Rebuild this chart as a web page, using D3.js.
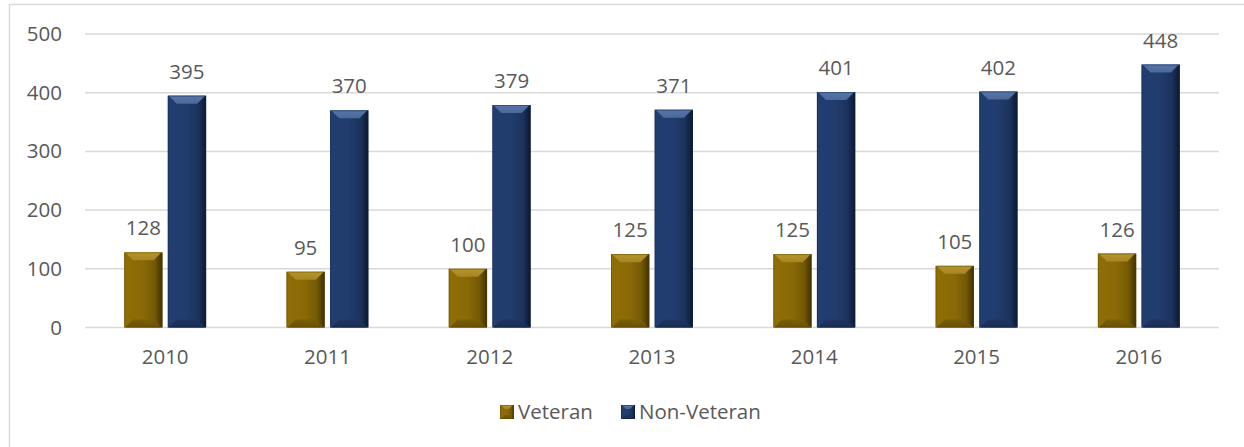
<!DOCTYPE html>
<html>
<head>
<meta charset="utf-8">
<script src="https://cdn.jsdelivr.net/npm/d3@7"></script>
<style>
  html, body { margin: 0; padding: 0; background: #fff; }
  svg { display: block; }
  text { font-family: "Open Sans", "DejaVu Sans", sans-serif; fill: #595959; }
</style>
</head>
<body>
<svg id="chart" width="1244" height="447"></svg>
<script>
// Yearly counts by veteran status
const years = ["2010", "2011", "2012", "2013", "2014", "2015", "2016"];
const veteran = [128, 95, 100, 125, 125, 105, 126];
const nonVeteran = [395, 370, 379, 371, 401, 402, 448];
const seriesNames = ["Veteran", "Non-Veteran"];
const yTicks = [0, 100, 200, 300, 400, 500];

const palette = {
  "Veteran": { base: "#8a6a06", light: "#b8952a", dark: "#3e2f00", edge: "#5e4700" },
  "Non-Veteran": { base: "#213c6d", light: "#5575aa", dark: "#0a1730", edge: "#122446" }
};

const FS = 20.5;

const svg = d3.select("#chart");
const defs = svg.append("defs");

// Outer chart frame
svg.append("rect")
  .attr("x", 9.5).attr("y", 4.5)
  .attr("width", 1300).attr("height", 500)
  .attr("fill", "none").attr("stroke", "#d9d9d9").attr("stroke-width", 1.5);

const x = d3.scaleBand().domain(years).range([84, 1220]);
const inner = d3.scaleBand().domain(seriesNames).range([0, 82]).paddingInner(0.12);
const y = d3.scaleLinear().domain([0, 500]).range([327.5, 34]);

// Gridlines
svg.append("g")
  .selectAll("line")
  .data(yTicks)
  .join("line")
  .attr("x1", 85).attr("x2", 1219)
  .attr("y1", d => y(d)).attr("y2", d => y(d))
  .attr("stroke", "#d9d9d9").attr("stroke-width", 1.5);

// Y axis labels
const yAxis = d3.axisLeft(y).tickValues(yTicks).tickSize(0).tickPadding(0);
svg.append("g")
  .attr("transform", "translate(62,0)")
  .call(yAxis)
  .call(g => g.select(".domain").remove())
  .call(g => g.selectAll("text")
    .attr("font-size", FS)
    .attr("fill", "#595959")
    .style("font-family", "'Open Sans', sans-serif"));

// X axis labels
const xAxis = d3.axisBottom(x).tickSize(0).tickPadding(0);
svg.append("g")
  .attr("transform", "translate(0,349)")
  .call(xAxis)
  .call(g => g.select(".domain").remove())
  .call(g => g.selectAll("text")
    .attr("font-size", FS)
    .attr("fill", "#595959")
    .style("font-family", "'Open Sans', sans-serif"));

// Gradients for bevelled bars
seriesNames.forEach((name, i) => {
  const c = palette[name];
  const g = defs.append("linearGradient").attr("id", "face" + i)
    .attr("x1", "0").attr("x2", "1").attr("y1", "0").attr("y2", "0");
  g.append("stop").attr("offset", "0").attr("stop-color", d3.color(c.base).brighter(0.1));
  g.append("stop").attr("offset", "0.5").attr("stop-color", c.base);
  g.append("stop").attr("offset", "0.8").attr("stop-color", d3.color(c.base).darker(0.5));
  g.append("stop").attr("offset", "1").attr("stop-color", c.dark);
  const t = defs.append("linearGradient").attr("id", "top" + i)
    .attr("x1", "0").attr("x2", "0").attr("y1", "0").attr("y2", "1");
  t.append("stop").attr("offset", "0").attr("stop-color", c.light);
  t.append("stop").attr("offset", "1").attr("stop-color", d3.color(c.light).darker(0.3));
  const b = defs.append("linearGradient").attr("id", "bot" + i)
    .attr("x1", "0").attr("x2", "0").attr("y1", "0").attr("y2", "1");
  b.append("stop").attr("offset", "0").attr("stop-color", d3.color(c.base).darker(0.3));
  b.append("stop").attr("offset", "1").attr("stop-color", d3.color(c.base).darker(0.8));
});

const rows = years.map((yr, i) => ({ year: yr, values: [veteran[i], nonVeteran[i]] }));

const groups = svg.append("g").selectAll("g")
  .data(rows)
  .join("g")
  .attr("transform", d => `translate(${x(d.year) + (x.bandwidth() - 82) / 2},0)`);

function drawBar(sel, x0, w, yTop, yBot, i, bevelV, bevelH) {
  const c = palette[seriesNames[i]];
  const x1 = x0 + w;
  const h = yBot - yTop;
  const bv = Math.min(bevelV, h / 2);
  // main face with side shading
  sel.append("rect").attr("x", x0).attr("y", yTop).attr("width", w).attr("height", h)
    .attr("fill", `url(#face${i})`);
  // top bevel
  sel.append("polygon")
    .attr("points", [[x0 + 1, yTop], [x1 - 1, yTop], [x1 - bevelH, yTop + bv], [x0 + bevelH, yTop + bv]].join(" "))
    .attr("fill", `url(#top${i})`);
  // bottom bevel
  sel.append("polygon")
    .attr("points", [[x0 + 1, yBot], [x1 - 1, yBot], [x1 - bevelH, yBot - bv], [x0 + bevelH, yBot - bv]].join(" "))
    .attr("fill", `url(#bot${i})`);
  // thin outline
  sel.append("rect").attr("x", x0 + 0.5).attr("y", yTop + 0.5).attr("width", w - 1).attr("height", h - 1)
    .attr("fill", "none").attr("stroke", c.edge).attr("stroke-opacity", 0.45).attr("stroke-width", 1);
}

groups.each(function (d) {
  const g = d3.select(this);
  d.values.forEach((v, i) => {
    const bx = inner(seriesNames[i]);
    const bw = inner.bandwidth();
    const bar = g.append("g");
    drawBar(bar, bx, bw, y(v), y(0), i, 8, 9);
    g.append("text")
      .attr("x", bx + bw / 2)
      .attr("y", y(v) - 17)
      .attr("text-anchor", "middle")
      .attr("font-size", FS)
      .text(v);
  });
});

// Legend
const legendItems = [
  { name: "Veteran", x: 500, i: 0 },
  { name: "Non-Veteran", x: 621, i: 1 }
];
const legend = svg.append("g").selectAll("g").data(legendItems).join("g")
  .attr("transform", d => `translate(${d.x},405)`);
legend.each(function (d) {
  drawBar(d3.select(this), 0, 14, 0, 14, d.i, 4, 5);
});
legend.append("text")
  .attr("x", 18).attr("y", 7).attr("dy", "0.35em")
  .attr("font-size", FS)
  .text(d => d.name);
</script>
</body>
</html>
